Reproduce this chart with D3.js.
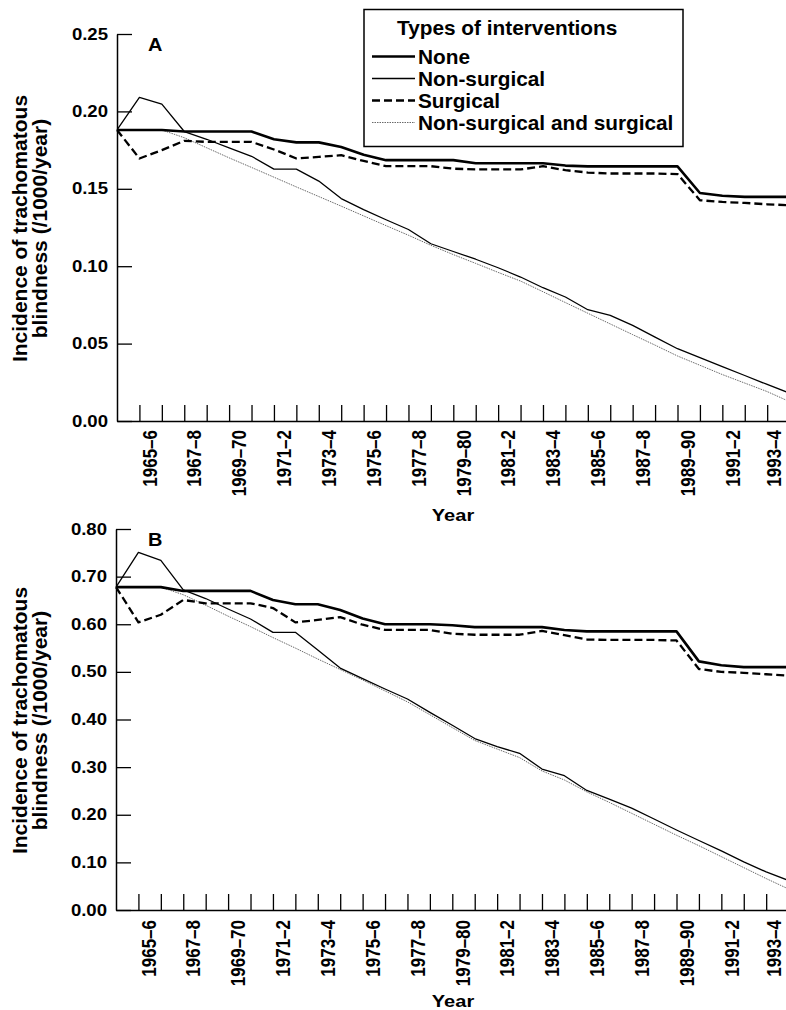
<!DOCTYPE html>
<html>
<head>
<meta charset="utf-8">
<script src="https://cdn.jsdelivr.net/npm/d3@7"></script>
<style>
body { margin: 0; background: #fff; }
svg text { font-family: "Liberation Sans", Arial, sans-serif; font-weight: bold; fill: #000; }
</style>
</head>
<body>
<svg id="chart" width="786" height="1010"></svg>
<script>
// one point per year boundary, 1964 ... 1994
var years = [1964, 1965, 1966, 1967, 1968, 1969, 1970, 1971, 1972, 1973, 1974, 1975, 1976, 1977, 1978, 1979,
             1980, 1981, 1982, 1983, 1984, 1985, 1986, 1987, 1988, 1989, 1990, 1991, 1992, 1993, 1994];
var tickYears = [1965, 1966, 1967, 1968, 1969, 1970, 1971, 1972, 1973, 1974, 1975, 1976, 1977, 1978, 1979,
                 1980, 1981, 1982, 1983, 1984, 1985, 1986, 1987, 1988, 1989, 1990, 1991, 1992, 1993];
var labelYears = [1965, 1967, 1969, 1971, 1973, 1975, 1977, 1979, 1981, 1983, 1985, 1987, 1989, 1991, 1993];
var tickLabels = ["1965–6", "1967–8", "1969–70", "1971–2", "1973–4", "1975–6", "1977–8", "1979–80",
                  "1981–2", "1983–4", "1985–6", "1987–8", "1989–90", "1991–2", "1993–4"];
var seriesNames = ["None", "Non-surgical", "Surgical", "Non-surgical and surgical"];

var yTicksA = [0, 0.05, 0.10, 0.15, 0.20, 0.25];
var yTicksB = [0, 0.1, 0.2, 0.3, 0.4, 0.5, 0.6, 0.7, 0.8];

var noneA = [0.188, 0.188, 0.188, 0.187, 0.187, 0.187, 0.187, 0.182, 0.180, 0.180, 0.177, 0.172, 0.1685, 0.1685, 0.1685, 0.1685,
             0.1665, 0.1665, 0.1665, 0.1665, 0.165, 0.1645, 0.1645, 0.1645, 0.1645, 0.1645, 0.1473, 0.1455, 0.1448, 0.1448, 0.1448];
var nonSurgicalA = [0.188, 0.209, 0.2047, 0.187, 0.182, 0.1765, 0.171, 0.1627, 0.1627, 0.155, 0.1437, 0.1366, 0.130, 0.1237, 0.1145, 0.1095,
                    0.1045, 0.099, 0.093, 0.0861, 0.0801, 0.0719, 0.0682, 0.0618, 0.0542, 0.0467, 0.0409, 0.0351, 0.0294, 0.0236, 0.018];
var surgicalA = [0.188, 0.1696, 0.175, 0.181, 0.1803, 0.1803, 0.1803, 0.1754, 0.1696, 0.1706, 0.1717, 0.168, 0.1646, 0.1646, 0.1646, 0.163,
                 0.1625, 0.1625, 0.1625, 0.1646, 0.162, 0.1605, 0.1599, 0.1599, 0.1599, 0.1595, 0.1426, 0.1415, 0.1409, 0.140, 0.1394];
var bothA = [0.188, 0.188, 0.188, 0.183, 0.1765, 0.170, 0.1638, 0.1575, 0.1512, 0.145, 0.1388, 0.1325, 0.1262, 0.120, 0.1135, 0.1075,
             0.1018, 0.096, 0.0904, 0.0835, 0.0765, 0.0696, 0.0627, 0.0558, 0.049, 0.042, 0.036, 0.030, 0.0245, 0.019, 0.0125];

var noneB = [0.678, 0.678, 0.678, 0.670, 0.670, 0.670, 0.670, 0.651, 0.642, 0.642, 0.630, 0.612, 0.600, 0.600, 0.600, 0.598,
             0.594, 0.594, 0.594, 0.594, 0.588, 0.585, 0.585, 0.585, 0.585, 0.585, 0.522, 0.514, 0.510, 0.510, 0.510];
var nonSurgicalB = [0.678, 0.751, 0.734, 0.672, 0.654, 0.632, 0.611, 0.583, 0.583, 0.546, 0.508, 0.486, 0.464, 0.443, 0.415, 0.388,
                    0.360, 0.343, 0.329, 0.296, 0.282, 0.251, 0.233, 0.214, 0.191, 0.168, 0.146, 0.124, 0.101, 0.080, 0.062];
var surgicalB = [0.678, 0.604, 0.620, 0.651, 0.644, 0.644, 0.644, 0.634, 0.604, 0.609, 0.615, 0.599, 0.588, 0.588, 0.588, 0.580,
                 0.578, 0.578, 0.578, 0.586, 0.577, 0.568, 0.567, 0.567, 0.567, 0.566, 0.506, 0.500, 0.498, 0.495, 0.492];
var bothB = [0.678, 0.678, 0.678, 0.662, 0.640, 0.617, 0.595, 0.572, 0.550, 0.527, 0.505, 0.483, 0.460, 0.437, 0.410, 0.383,
             0.356, 0.338, 0.320, 0.292, 0.273, 0.248, 0.226, 0.203, 0.180, 0.157, 0.135, 0.112, 0.089, 0.066, 0.044];

// line look per series, same order as seriesNames
var lineStyles = [
    {width: 2.6, dash: null, color: "#000"},
    {width: 1.3, dash: null, color: "#000"},
    {width: 2.3, dash: "8,4", color: "#000"},
    {width: 0.8, dash: "1.5,1", color: "#444"}
];

var svg = d3.select("#chart");
svg.append("rect").attr("width", 786).attr("height", 1010).attr("fill", "#fff");

var panels = [
    {name: "A", left: 117, top: 34, bottom: 421, yMax: 0.25, ticks: yTicksA,
     series: [noneA, nonSurgicalA, surgicalA, bothA], labelTop: 430, yearY: 521},
    {name: "B", left: 116, top: 529, bottom: 910, yMax: 0.8, ticks: yTicksB,
     series: [noneB, nonSurgicalB, surgicalB, bothB], labelTop: 920, yearY: 1007}
];

function drawPanel(p) {
    var g = svg.append("g");
    var x = d3.scaleLinear().domain([1964, 1994]).range([p.left, p.left + 30 * 22.42]);
    var y = d3.scaleLinear().domain([0, p.yMax]).range([p.bottom, p.top]);

    var yAxis = g.append("g")
        .attr("transform", "translate(" + p.left + ",0)")
        .call(d3.axisLeft(y).tickValues(p.ticks).tickFormat(d3.format(".2f"))
            .tickSize(-15).tickSizeOuter(0).tickPadding(9));
    yAxis.attr("font-size", null).attr("font-family", null);
    yAxis.select(".domain").attr("stroke-width", 1.5);
    yAxis.selectAll(".tick line").attr("stroke-width", 1.3);
    yAxis.selectAll("text")
        .attr("x", 0)
        .attr("transform", "translate(-9,0) scale(1.16,1)")
        .style("font-size", "16px");

    var xAxis = g.append("g")
        .attr("transform", "translate(0," + p.bottom + ")")
        .call(d3.axisBottom(x).tickValues(tickYears).tickFormat("")
            .tickSize(-16).tickSizeOuter(0));
    xAxis.select(".domain").attr("stroke-width", 1.5);
    xAxis.selectAll(".tick line").attr("stroke-width", 1.3);

    // labels sit between ticks; keep the last one inside the page edge
    g.selectAll(".xlabel").data(labelYears).enter().append("text")
        .attr("class", "xlabel")
        .attr("transform", function(d) {
            var px = Math.min(x(d + 0.45), 774);
            return "translate(" + px + "," + p.labelTop + ") scale(1.2,1) rotate(-90)";
        })
        .attr("text-anchor", "end")
        .attr("dy", "0.35em")
        .style("font-size", "17px")
        .text(function(d, i) { return tickLabels[i]; });

    g.append("text")
        .attr("transform", "translate(453," + p.yearY + ") scale(1.18,1)")
        .attr("text-anchor", "middle")
        .style("font-size", "17px")
        .text("Year");

    var midY = (p.top + p.bottom) / 2 + 1;
    g.append("text")
        .attr("transform", "translate(27," + midY + ") rotate(-90)")
        .attr("text-anchor", "middle")
        .style("font-size", "21px")
        .text("Incidence of trachomatous");
    g.append("text")
        .attr("transform", "translate(46.5," + midY + ") rotate(-90)")
        .attr("text-anchor", "middle")
        .style("font-size", "21px")
        .text("blindness (/1000/year)");

    g.append("text")
        .attr("transform", "translate(148," + (p.top + 16.5) + ") scale(1.05,1)")
        .style("font-size", "19px")
        .text(p.name);

    var line = d3.line()
        .x(function(d, i) { return x(years[i]); })
        .y(function(d) { return y(d); });

    // dotted first so the heavier lines sit on top
    [3, 1, 2, 0].forEach(function(k) {
        var s = lineStyles[k];
        g.append("path")
            .datum(p.series[k])
            .attr("d", line)
            .attr("fill", "none")
            .attr("stroke", s.color)
            .attr("stroke-width", s.width)
            .attr("stroke-dasharray", s.dash)
            .attr("stroke-linejoin", "round");
    });
}

panels.forEach(drawPanel);

// legend (only in panel A)
var legend = svg.append("g");
legend.append("rect")
    .attr("x", 364).attr("y", 9.5).attr("width", 319).attr("height", 137)
    .attr("fill", "#fff").attr("stroke", "#000").attr("stroke-width", 1.5);
legend.append("text")
    .attr("x", 397).attr("y", 34.5)
    .style("font-size", "20.8px")
    .text("Types of interventions");

var legendRows = [63.5, 85.5, 107.5, 129.5];
seriesNames.forEach(function(name, k) {
    var s = lineStyles[k];
    legend.append("line")
        .attr("x1", 372).attr("x2", 415)
        .attr("y1", legendRows[k] - 7).attr("y2", legendRows[k] - 7)
        .attr("stroke", s.color)
        .attr("stroke-width", s.width)
        .attr("stroke-dasharray", s.dash);
    legend.append("text")
        .attr("x", 418).attr("y", legendRows[k])
        .style("font-size", "20.8px")
        .text(name);
});
</script>
</body>
</html>
